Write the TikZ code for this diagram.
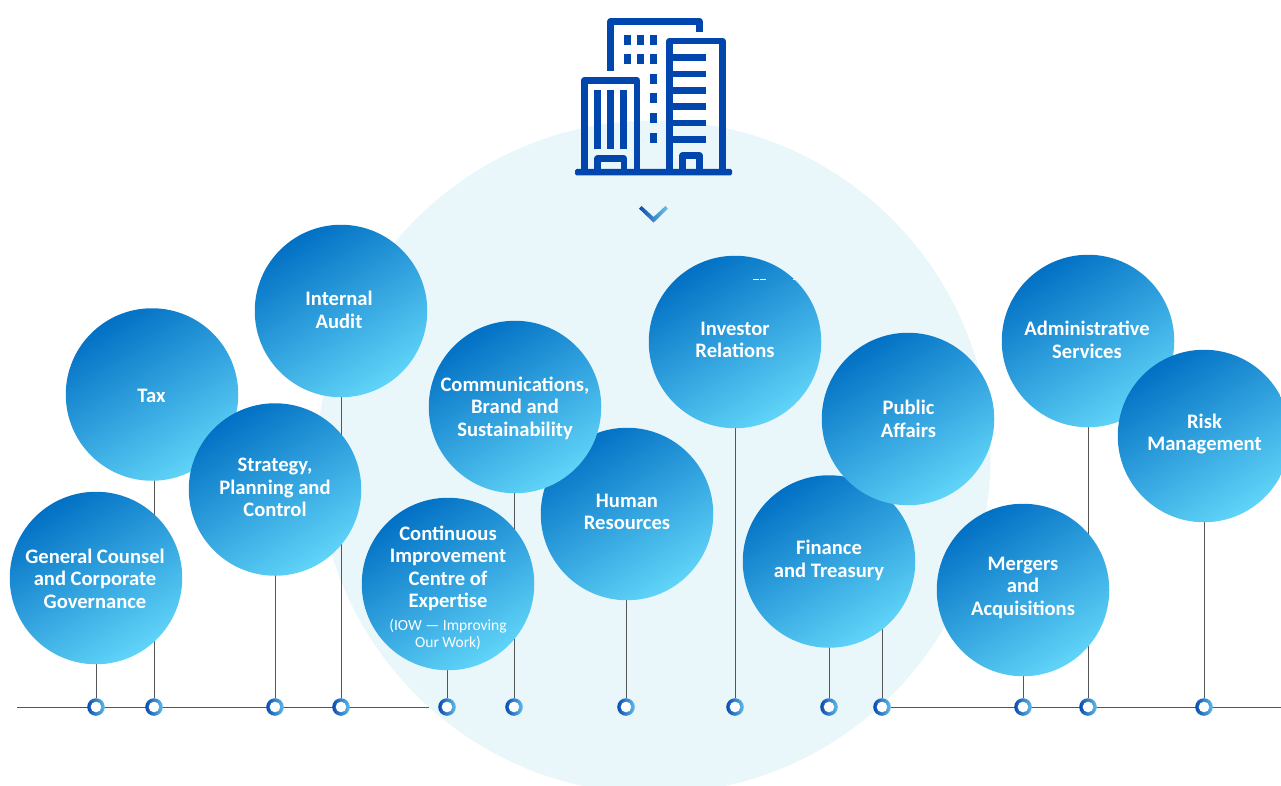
\documentclass[tikz,border=0pt]{standalone}
\usepackage{fontspec}
\setmainfont{Carlito}
\pgfdeclarelayer{bg}
\pgfsetlayers{bg,main}
\definecolor{pale}{HTML}{E9F7FB}
\definecolor{blobtop}{HTML}{0270C4}
\definecolor{blobbot}{HTML}{60D4F8}
\definecolor{icon}{HTML}{0046AD}
\definecolor{ringa}{HTML}{0A4BAE}
\definecolor{ringb}{HTML}{5FBCE9}
\definecolor{chevb}{HTML}{6CC6EC}
\definecolor{rulegray}{HTML}{555555}
\tikzset{
  x=1pt,y=-1pt,
  blobshape/.style={circle,inner sep=0pt,minimum size=172.5pt,shading=axis,
    top color=blobtop,bottom color=blobbot,shading angle=32},
  blobtext/.style={align=center,text=white,inner sep=0pt,
    font=\fontsize{20.6}{22.5}\selectfont\bfseries},
  dotring/.style={circle,inner sep=0pt,minimum size=17.6pt,left color=ringa,right color=ringb,
    path picture={\fill[white] (path picture bounding box.center) circle (5.3);}},
  rulerline/.style={draw=rulegray,line width=0.9pt},
  iconline/.style={draw=icon,line width=6.6pt,line join=round,line cap=butt},
  iconfill/.style={fill=icon},
}
\newcommand{\blob}[6]{% name, x, y, text x, text y, text
  \node[blobshape] (#1) at (#2,#3) {};
  \node[blobtext] (#1t) at (#4,#5) {#6};
}
\newcommand{\subline}[1]{{\fontsize{15.5}{17}\selectfont\mdseries #1}}
\begin{document}
\begin{tikzpicture}
\useasboundingbox (0,0) rectangle (1281,786);
\begin{pgfonlayer}{bg}
  \fill[pale] (654,457) circle (336.5);
\end{pgfonlayer}

% building icon
\draw[iconline] (610.7,71) -- (610.7,21.3) -- (699.3,21.3) -- (699.3,31.7);
\foreach \xx in {624,637,650} {
  \fill[iconfill] (\xx,35) rectangle +(7,10);
  \fill[iconfill] (\xx,54) rectangle +(7,10);
}
\foreach \yy in {74,93,113,133} { \fill[iconfill] (650,\yy) rectangle +(7,10); }
\draw[iconline] (669.7,172) -- (669.7,41) -- (722.3,41) -- (722.3,172);
\foreach \yy in {54,70.7,87,103.3,119.7,136} { \fill[iconfill] (672,\yy) rectangle (705.7,\yy+6.6); }
\draw[iconline] (682.7,172) -- (682.7,155.7) -- (699.3,155.7) -- (699.3,172);
\draw[iconline] (584.3,172) -- (584.3,80.3) -- (637,80.3) -- (637,172);
\foreach \xx in {594,607,620} { \fill[iconfill] (\xx,90) rectangle +(7,59); }
\draw[iconline] (597.7,172) -- (597.7,158.7) -- (624,158.7) -- (624,172);
\fill[iconfill,rounded corners=1.5pt] (575,169) rectangle (732,175.4);
\shade[left color=ringa,right color=chevb]
  (639,208.6) -- (641.6,206) -- (653.6,217) -- (665.4,206) -- (668,208.6) -- (653.6,222.6) -- cycle;

% circles, back to front
\blob{tax}{152}{394.5}{151.5}{396}{Tax}
\blob{audit}{341}{311}{339}{310}{Internal\\Audit}
\blob{counsel}{96}{578}{95}{578.5}{General Counsel\\and Corporate\\Governance}
\blob{strategy}{275}{489.5}{275}{487.5}{Strategy,\\Planning and\\Control}
\blob{hr}{627}{514}{627}{512}{Human\\Resources}
\blob{comms}{515}{407}{515}{408}{Communications,\\Brand and\\Sustainability}
\blob{ciu}{448}{584}{448}{588}{Continuous\\Improvement\\Centre of\\Expertise\\[0.5pt]\subline{(IOW — Improving}\\[-5.5pt]\subline{Our Work)}}
\blob{investor}{735}{342}{735}{340}{Investor\\Relations}
\blob{finance}{829}{561.5}{829}{560.5}{Finance\\and Treasury}
\blob{public}{908}{419}{908.5}{419}{Public\\Affairs}
\blob{mergers}{1023}{590}{1023}{587.5}{Mergers\\and\\Acquisitions}
\blob{admin}{1088}{341}{1087}{340}{Administrative\\Services}
\blob{risk}{1204}{436}{1204.5}{434}{Risk\\Management}

% small white marks on the Investor Relations circle
\fill[white] (753,278.7) rectangle (759,279.7);
\fill[white] (760,278.7) rectangle (766,279.7);
\fill[white] (793,278.7) rectangle (796,279.7);

% timeline dots
\foreach \nm/\xx in {dcounsel/96,dtax/154,dstrategy/275,daudit/341,dciu/447,dcomms/514,dhr/626,dinvestor/735,dfinance/829,dpublic/882,dmergers/1023,dadmin/1088,drisk/1204}
  \node[dotring] (\nm) at (\xx,707) {};
\coordinate (lstart) at (17,707);
\coordinate (lstop) at (429,707);
\coordinate (rend) at (1281,707);

\begin{pgfonlayer}{bg}
  \draw[rulerline] (lstart) -- (lstop);
  \draw[rulerline] (dpublic) -- (rend);
  \foreach \a/\b in {counsel/dcounsel,tax/dtax,strategy/dstrategy,audit/daudit,ciu/dciu,comms/dcomms,hr/dhr,investor/dinvestor,finance/dfinance,public/dpublic,mergers/dmergers,admin/dadmin,risk/drisk}
    \draw[rulerline] (\b |- \a.center) -- (\b);
\end{pgfonlayer}
\end{tikzpicture}
\end{document}
